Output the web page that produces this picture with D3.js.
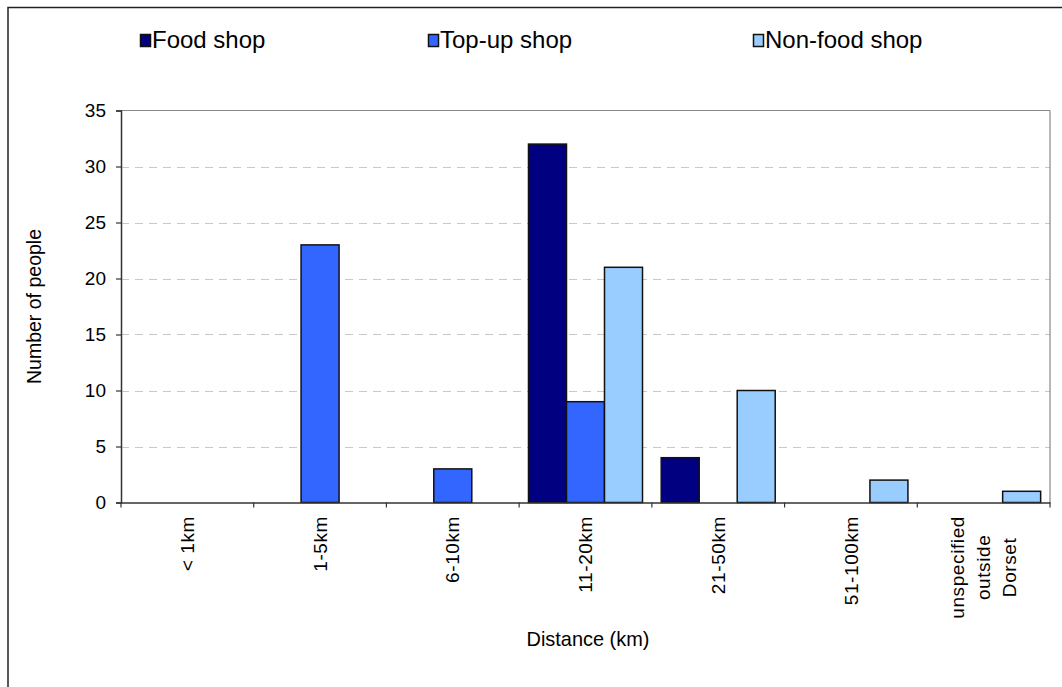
<!DOCTYPE html>
<html>
<head>
<meta charset="utf-8">
<script src="https://cdn.jsdelivr.net/npm/d3@7"></script>
<style>
  html, body { margin: 0; padding: 0; background: #fff; }
  svg { display: block; font-family: "Liberation Sans", Arial, sans-serif; }
</style>
</head>
<body>
<svg id="chart" width="1062" height="687"></svg>
<script>
// ---- data ----
const categories = ["< 1km", "1-5km", "6-10km", "11-20km", "21-50km", "51-100km", "unspecified outside Dorset"];
const categoryLines = [["< 1km"], ["1-5km"], ["6-10km"], ["11-20km"], ["21-50km"], ["51-100km"], ["unspecified", "outside", "Dorset"]];
const seriesNames = ["Food shop", "Top-up shop", "Non-food shop"];
const foodShop = [0, 0, 0, 32, 4, 0, 0];
const topUpShop = [0, 23, 3, 9, 0, 0, 0];
const nonFoodShop = [0, 0, 0, 21, 10, 2, 1];
const seriesColors = ["#000080", "#3366FF", "#99CCFF"];
const yTicks = [0, 5, 10, 15, 20, 25, 30, 35];
const xTitle = "Distance (km)";
const yTitle = "Number of people";

const seriesValues = [foodShop, topUpShop, nonFoodShop];

const svg = d3.select("#chart");
const W = 1062, H = 687;
const plot = { left: 121, right: 1050, top: 110.5, bottom: 502.5 };

// outer frame (extends beyond visible area on right/bottom)
svg.append("rect")
  .attr("x", 8).attr("y", 7.5)
  .attr("width", W + 10).attr("height", H + 10)
  .attr("fill", "none").attr("stroke", "#222").attr("stroke-width", 1.5);

const x0 = d3.scaleBand().domain(categories).range([plot.left, plot.right]).paddingInner(0).paddingOuter(0);
const x1 = d3.scaleBand().domain(seriesNames).range([0, x0.bandwidth()]).paddingInner(0).paddingOuter(0.246);
const y = d3.scaleLinear().domain([0, 35]).range([plot.bottom, plot.top]);

// gridlines
svg.append("g").selectAll("line")
  .data(yTicks.filter(t => t > 0 && t < 35))
  .join("line")
  .attr("x1", plot.left).attr("x2", plot.right)
  .attr("y1", d => Math.round(y(d)) + 0.5).attr("y2", d => Math.round(y(d)) + 0.5)
  .attr("stroke", "#c8c8c8").attr("stroke-width", 1).attr("stroke-dasharray", "8,6");

// plot frame top & right
svg.append("line")
  .attr("x1", plot.left).attr("x2", plot.right)
  .attr("y1", y(35)).attr("y2", y(35))
  .attr("stroke", "#888").attr("stroke-width", 1.2);
svg.append("line")
  .attr("x1", plot.right).attr("x2", plot.right)
  .attr("y1", y(35)).attr("y2", y(0))
  .attr("stroke", "#888").attr("stroke-width", 1.2);

// bars
const barData = [];
categories.forEach((c, i) => {
  seriesNames.forEach((s, j) => {
    barData.push({ cat: c, series: s, value: seriesValues[j][i], color: seriesColors[j] });
  });
});
svg.append("g").selectAll("rect")
  .data(barData.filter(d => d.value > 0))
  .join("rect")
  .attr("x", d => x0(d.cat) + x1(d.series))
  .attr("y", d => y(d.value))
  .attr("width", x1.bandwidth())
  .attr("height", d => y(0) - y(d.value))
  .attr("fill", d => d.color)
  .attr("stroke", "#111").attr("stroke-width", 1.5);

// y axis
const yAxis = d3.axisLeft(y).tickValues(yTicks).tickSize(5).tickPadding(10).tickFormat(d3.format("d"));
const gy = svg.append("g").attr("transform", `translate(${plot.left},0)`).call(yAxis);
gy.select(".domain").attr("stroke", "#333").attr("stroke-width", 1.5);
gy.selectAll(".tick line").attr("stroke", "#333").attr("stroke-width", 1.2);
gy.selectAll(".tick text").attr("font-size", 19).attr("fill", "#000")
  .attr("font-family", "'Liberation Sans', Arial, sans-serif");

// x axis line
const gx = svg.append("g").attr("transform", `translate(0,${plot.bottom})`)
  .call(d3.axisBottom(x0).tickSize(0).tickFormat(""));
gx.select(".domain").attr("stroke", "#333").attr("stroke-width", 1.5);
gx.selectAll(".tick").remove();
// boundary ticks
const boundaries = categories.map(c => x0(c)).concat([x0.range()[1]]);
gx.selectAll("line.bt").data(boundaries).join("line").attr("class", "bt")
  .attr("x1", d => d).attr("x2", d => d).attr("y1", 0).attr("y2", 5)
  .attr("stroke", "#333").attr("stroke-width", 1.2);

// category labels (rotated)
const labelTop = 516;
const lineH = 26;
categories.forEach((c, i) => {
  const cx = x0(c) + x0.bandwidth() / 2;
  const lines = categoryLines[i];
  const g = svg.append("g");
  const t = g.append("text").attr("font-size", 19).attr("fill", "#000")
    .attr("letter-spacing", 0.6)
    .attr("text-anchor", "middle");
  lines.forEach((ln, k) => {
    t.append("tspan").attr("x", 0).attr("y", (k - (lines.length - 1) / 2) * lineH).attr("dy", "0.35em").text(ln);
  });
  let maxW = 0;
  t.selectAll("tspan").each(function () { maxW = Math.max(maxW, this.getComputedTextLength()); });
  g.attr("transform", `translate(${cx},${labelTop + maxW / 2}) rotate(-90)`);
});

// axis titles
svg.append("text")
  .attr("x", 588)
  .attr("y", 646)
  .attr("text-anchor", "middle").attr("font-size", 21).attr("fill", "#000")
  .attr("textLength", 123).attr("lengthAdjust", "spacingAndGlyphs")
  .text(xTitle);
svg.append("text")
  .attr("transform", `translate(41,${(plot.top + plot.bottom) / 2}) rotate(-90)`)
  .attr("text-anchor", "middle").attr("font-size", 19.5).attr("fill", "#000")
  .text(yTitle);

// legend
const legendX = [140, 428, 753];
const lg = svg.append("g");
seriesNames.forEach((s, j) => {
  lg.append("rect").attr("x", legendX[j] + 0.5).attr("y", 34.5).attr("width", 10).attr("height", 12)
    .attr("fill", seriesColors[j]).attr("stroke", "#111").attr("stroke-width", 1.5);
  lg.append("text").attr("x", legendX[j] + 12).attr("y", 48)
    .attr("font-size", 24).attr("fill", "#000").text(s);
});
</script>
</body>
</html>
